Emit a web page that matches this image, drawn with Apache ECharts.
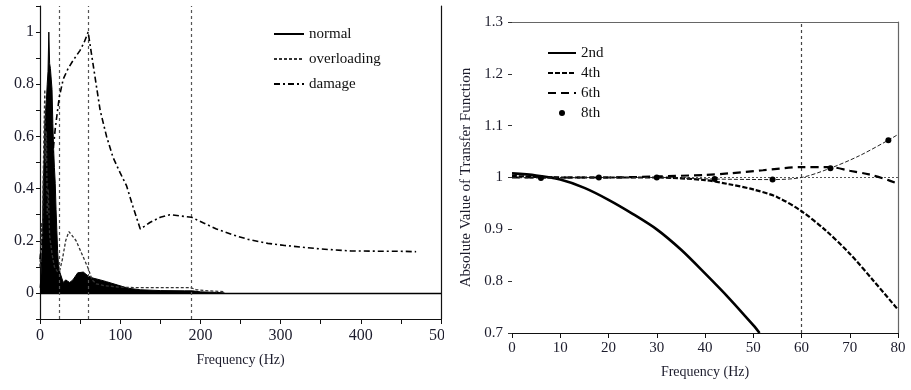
<!DOCTYPE html>
<html>
<head>
<meta charset="utf-8">
<script src="https://cdn.jsdelivr.net/npm/echarts@6/dist/echarts.min.js"></script>
<style>
  html, body { margin: 0; padding: 0; background: #fff; }
  #chart { width: 911px; height: 390px; }
</style>
</head>
<body>
<div id="chart"></div>
<script>
// ---- Spectrum panel (left): frequency in Hz, normalised amplitude ----
const spectrumNames = ['normal', 'overloading', 'damage'];

const normalSpectrum = [
  [0, 0.02], [1, 0.05], [2, 0.12], [3, 0.2], [4, 0.42], [5, 0.5], [6, 0.65], [7, 0.7],
  [8, 0.74], [9, 0.8], [10, 0.85], [11, 1.0], [12, 0.88], [13, 0.86], [14, 0.82],
  [15, 0.78], [16, 0.65], [17, 0.55], [18, 0.48], [19, 0.42], [20, 0.32], [21, 0.24],
  [22, 0.16], [23, 0.11], [25, 0.077], [29, 0.04], [32, 0.05], [37, 0.04], [41, 0.05],
  [47, 0.077], [54, 0.08], [60, 0.065], [66, 0.057], [75, 0.05], [83, 0.043],
  [97, 0.03], [110, 0.018], [125, 0.012], [150, 0.009], [180, 0.008], [190, 0.008],
  [200, 0.004], [220, 0.002], [230, 0]
];

const overloadingSpectrum = [
  [0, 0.1], [2, 0.27], [3, 0.2], [4, 0.45], [5, 0.62], [6, 0.78], [7, 0.5], [8, 0.62],
  [9, 0.3], [10, 0.42], [12, 0.22], [15, 0.15], [18, 0.1], [22, 0.08], [25, 0.09],
  [28, 0.13], [32, 0.2], [36, 0.235], [40, 0.22], [45, 0.2], [50, 0.165], [55, 0.13],
  [60, 0.095], [65, 0.05], [70, 0.035], [80, 0.028], [100, 0.022], [120, 0.02],
  [150, 0.02], [188, 0.02], [195, 0.012], [210, 0.008], [230, 0.005]
];

const damageSpectrum = [
  [0, 0.13], [3, 0.2], [6, 0.3], [10, 0.4], [15, 0.5], [19, 0.63], [24, 0.75],
  [29, 0.82], [35, 0.86], [41, 0.89], [50, 0.93], [55, 0.96], [60, 1.0], [66, 0.88],
  [75, 0.7], [83, 0.6], [91, 0.52], [100, 0.46], [108, 0.41], [116, 0.33],
  [125, 0.245], [130, 0.255], [137, 0.27], [150, 0.29], [162, 0.3], [175, 0.295],
  [189, 0.29], [204, 0.268], [220, 0.245], [241, 0.222], [260, 0.205], [284, 0.19],
  [305, 0.182], [325, 0.176], [345, 0.17], [366, 0.165], [387, 0.161], [420, 0.16],
  [445, 0.16], [469, 0.158]
];

// reference frequencies marked with dashed verticals
const spectrumMarkers = [24, 60, 188];

// ---- Transfer-function panel (right): |H(f)| for filter orders ----
const orderNames = ['2nd', '4th', '6th', '8th'];

const order2 = [
  [0, 1.008], [5, 1.004], [10, 0.996], [15, 0.98], [20, 0.957], [25, 0.93],
  [30, 0.9], [35, 0.861], [40, 0.815], [45, 0.767], [50, 0.715], [51.3, 0.7]
];
const order4 = [
  [0, 1.003], [10, 1.0], [20, 1.0], [30, 1.0], [40, 0.995], [45, 0.987], [50, 0.977],
  [55, 0.962], [60, 0.935], [65, 0.898], [70, 0.853], [75, 0.8], [80, 0.745]
];
const order6 = [
  [0, 1.0], [10, 1.0], [20, 1.0], [30, 1.002], [40, 1.005], [45, 1.008], [52, 1.014],
  [60, 1.02], [66, 1.02], [70, 1.013], [74, 1.006], [78, 0.995], [80, 0.988]
];
const order8 = [
  [0, 1.0], [6, 0.999], [18, 1.0], [30, 1.0], [42, 0.997], [54, 0.996], [60, 1.0],
  [66, 1.018], [72, 1.042], [78, 1.072], [80, 1.083]
];
// frequencies where the 8th-order curve carries a dot
const order8Dots = [6, 18, 30, 42, 54, 66, 78];
const unityGain = [[0, 1], [80, 1]];
const cutoffMarkers = [60];

const SERIF = 'Liberation Serif';
const TXT = '#1c1c2c';

const chart = echarts.init(document.getElementById('chart'), null, { renderer: 'canvas' });

function leftYLabel(v) {
  const k = Math.round(v * 10);
  return (k >= 0 && k <= 10 && k % 2 === 0) ? String(k / 10) : '';
}

// line-only legend keys: the marker that line series add to their key is hidden
const hiddenKeyMarker = { opacity: 0 };

const option = {
  animation: false,
  backgroundColor: '#fff',
  grid: [
    { left: 40, top: 6, width: 401, height: 313 },
    { left: 512, top: 22, right: 13, bottom: 57 }
  ],
  legend: [
    {
      data: spectrumNames.map(n => ({ name: n })),
      orient: 'vertical',
      left: 268, top: 21,
      itemWidth: 30, itemHeight: 10, itemGap: 9,
      itemStyle: hiddenKeyMarker,
      textStyle: { fontFamily: SERIF, fontSize: 15, color: '#111', lineHeight: 16 }
    },
    {
      data: [
        { name: orderNames[0] }, { name: orderNames[1] }, { name: orderNames[2] },
        { name: orderNames[3], icon: 'circle', itemStyle: { opacity: 1, color: '#000' } }
      ],
      orient: 'vertical',
      left: 542, top: 40,
      itemWidth: 28, itemHeight: 6, itemGap: 4,
      itemStyle: hiddenKeyMarker,
      textStyle: { fontFamily: SERIF, fontSize: 15, color: '#111', lineHeight: 16 }
    }
  ],
  xAxis: [
    {
      gridIndex: 0, type: 'value', min: 0, max: 500, interval: 50,
      name: 'Frequency (Hz)', nameLocation: 'middle', nameGap: 34,
      nameTextStyle: { fontFamily: SERIF, fontSize: 14, color: TXT },
      axisLine: { show: true, onZero: false, lineStyle: { color: '#111', width: 1.2 } },
      axisTick: { show: true, length: 5, lineStyle: { color: '#111' } },
      axisLabel: {
        fontFamily: SERIF, fontSize: 16, color: TXT, margin: 9,
        formatter: v => (v % 100 === 0 ? String(v) : '')
      },
      splitLine: { show: false }
    },
    {
      gridIndex: 1, type: 'value', min: 0, max: 80, interval: 10,
      name: 'Frequency (Hz)', nameLocation: 'middle', nameGap: 32,
      nameTextStyle: { fontFamily: SERIF, fontSize: 14, color: TXT },
      axisLine: { show: true, onZero: false, lineStyle: { color: '#111', width: 1.2 } },
      axisTick: { show: true, length: 5, lineStyle: { color: '#111' } },
      axisLabel: { fontFamily: SERIF, fontSize: 15, color: TXT, margin: 8 },
      splitLine: { show: false }
    },
    {
      gridIndex: 1, type: 'value', min: 0, max: 80, position: 'top',
      axisLine: { show: true, onZero: false, lineStyle: { color: '#666', width: 1.2 } },
      axisTick: { show: false }, axisLabel: { show: false }, splitLine: { show: false }
    }
  ],
  yAxis: [
    {
      gridIndex: 0, type: 'value', min: -0.1, max: 1.1, interval: 0.1,
      axisLine: { show: true, onZero: false, lineStyle: { color: '#111', width: 1.2 } },
      axisTick: { show: true, length: 4, lineStyle: { color: '#111' } },
      axisLabel: { fontFamily: SERIF, fontSize: 16, color: TXT, margin: 6, formatter: leftYLabel },
      splitLine: { show: false }
    },
    {
      gridIndex: 0, type: 'value', min: -0.1, max: 1.1, position: 'right',
      axisLine: { show: true, onZero: false, lineStyle: { color: '#111', width: 1.2 } },
      axisTick: { show: false }, axisLabel: { show: false }, splitLine: { show: false }
    },
    {
      gridIndex: 1, type: 'value', min: 0.7, max: 1.3, interval: 0.1,
      name: 'Absolute Value of Transfer Function', nameLocation: 'middle', nameGap: 38,
      nameTextStyle: { fontFamily: SERIF, fontSize: 15, color: TXT },
      axisLine: { show: false },
      axisTick: { show: true, length: 4, lineStyle: { color: '#333' } },
      axisLabel: { fontFamily: SERIF, fontSize: 15, color: TXT, margin: 9 },
      splitLine: { show: false }
    },
    {
      gridIndex: 1, type: 'value', min: 0.7, max: 1.3, position: 'right',
      axisLine: { show: true, onZero: false, lineStyle: { color: '#666', width: 1.2 } },
      axisTick: { show: false }, axisLabel: { show: false }, splitLine: { show: false }
    }
  ],
  series: [
    {
      name: 'normal', type: 'line', xAxisIndex: 0, yAxisIndex: 0,
      data: normalSpectrum, symbol: 'none', z: 3,
      lineStyle: { color: '#000', width: 1 },
      itemStyle: { color: '#000' },
      areaStyle: { color: '#000', opacity: 1, origin: 0 },
      markLine: {
        silent: true, symbol: ['none', 'none'], label: { show: false },
        data: [{ yAxis: 0, lineStyle: { color: '#000', width: 1.3, type: 'solid' } }]
      }
    },
    {
      name: 'overloading', type: 'line', xAxisIndex: 0, yAxisIndex: 0,
      data: overloadingSpectrum, symbol: 'none', z: 4,
      lineStyle: { color: '#333', width: 1.3, type: [3, 2] },
      itemStyle: { color: '#333' },
      markLine: {
        silent: true, symbol: ['none', 'none'], label: { show: false },
        lineStyle: { color: '#555', width: 1.2, type: [3, 3] },
        data: spectrumMarkers.map(f => ({ xAxis: f }))
      }
    },
    {
      name: 'damage', type: 'line', xAxisIndex: 0, yAxisIndex: 0,
      data: damageSpectrum, symbol: 'none', z: 5,
      lineStyle: { color: '#000', width: 1.6, type: [6, 3, 2, 3] },
      itemStyle: { color: '#000' }
    },
    {
      name: 'unity', type: 'line', xAxisIndex: 1, yAxisIndex: 2,
      data: unityGain, symbol: 'none', z: 2,
      lineStyle: { color: '#555', width: 1, type: [2, 2] },
      markLine: {
        silent: true, symbol: ['none', 'none'], label: { show: false },
        lineStyle: { color: '#444', width: 1.2, type: [3, 3] },
        data: cutoffMarkers.map(f => ({ xAxis: f }))
      }
    },
    {
      name: '2nd', type: 'line', xAxisIndex: 1, yAxisIndex: 2,
      data: order2, symbol: 'none', smooth: 0.3, z: 5,
      lineStyle: { color: '#000', width: 2.6, type: 'solid' },
      itemStyle: { color: '#000' }
    },
    {
      name: '4th', type: 'line', xAxisIndex: 1, yAxisIndex: 2,
      data: order4, symbol: 'none', smooth: 0.3, z: 5,
      lineStyle: { color: '#000', width: 2.2, type: [5, 2] },
      itemStyle: { color: '#000' }
    },
    {
      name: '6th', type: 'line', xAxisIndex: 1, yAxisIndex: 2,
      data: order6, symbol: 'none', smooth: 0.3, z: 5,
      lineStyle: { color: '#000', width: 2.2, type: [8, 5] },
      itemStyle: { color: '#000' }
    },
    {
      name: '8th', type: 'line', xAxisIndex: 1, yAxisIndex: 2,
      data: order8.map(p => order8Dots.indexOf(p[0]) >= 0
        ? { value: p }
        : { value: p, symbol: 'none' }),
      symbol: 'circle', symbolSize: 6, showSymbol: true, smooth: 0.3, z: 6,
      lineStyle: { color: '#222', width: 1, type: [4, 2] },
      itemStyle: { color: '#000' }
    }
  ],
  graphic: [
    // panel edge: the right-hand panel starts here and hides the tail of the last tick label
    { type: 'rect', left: 444, top: 328, shape: { width: 16, height: 26 }, style: { fill: '#fff' }, z: 100 }
  ]
};

chart.setOption(option);
</script>
</body>
</html>
